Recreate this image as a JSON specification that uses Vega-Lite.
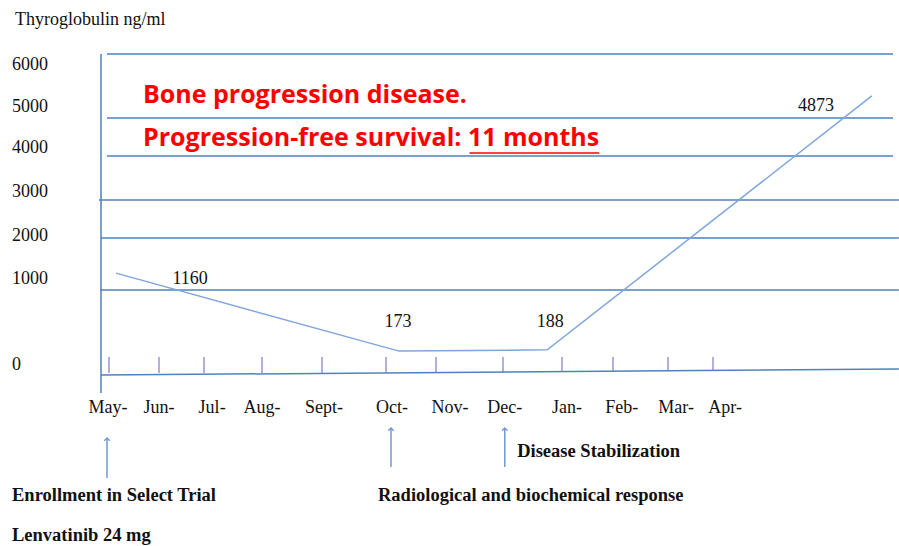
{
  "$schema": "https://vega.github.io/schema/vega-lite/v6.json",
  "width": 899,
  "height": 546,
  "autosize": {"type": "none"},
  "padding": 0,
  "background": "white",
  "config": {"view": {"stroke": null}},
  "datasets": {
    "lines": [
      {"m": -0.04, "m2": 15.0, "v": 6256, "v2": 6256},
      {"m": -0.04, "m2": 15.0, "v": 4767, "v2": 4767},
      {"m": -0.04, "m2": 15.0, "v": 3884, "v2": 3884},
      {"m": -0.2, "m2": 15.13, "v": 2860, "v2": 2860},
      {"m": -0.16, "m2": 15.13, "v": 1977, "v2": 1977},
      {"m": -0.18, "m2": 15.13, "v": 884, "v2": 884},
      {"m": -0.16, "m2": -0.16, "v": 6256, "v2": -314},
      {"m": -0.16, "m2": 15.13, "v": -105, "v2": -35}
    ],
    "ticks": [
      {"m": 0, "v": 105, "v2": -81}, {"m": 1, "v": 105, "v2": -81},
      {"m": 2, "v": 105, "v2": -81}, {"m": 3, "v": 105, "v2": -81},
      {"m": 4, "v": 105, "v2": -81}, {"m": 5, "v": 105, "v2": -81},
      {"m": 6, "v": 105, "v2": -81}, {"m": 7, "v": 105, "v2": -81},
      {"m": 8, "v": 105, "v2": -71}, {"m": 9, "v": 105, "v2": -65},
      {"m": 10, "v": 105, "v2": -60}, {"m": 11, "v": 105, "v2": -56}
    ],
    "series": [
      {"m": 0.14, "v": 1160},
      {"m": 5.26, "v": 173},
      {"m": 7.75, "v": 188},
      {"m": 14.53, "v": 5280}
    ],
    "valueLabels": [
      {"m": 1.69, "v": 1023, "label": "1160"},
      {"m": 5.24, "v": 512, "label": "173"},
      {"m": 7.8, "v": 512, "label": "188"},
      {"m": 13.29, "v": 5047, "label": "4873"}
    ],
    "yLabels": [
      {"m": -1.94, "v": 6000, "label": "6000"},
      {"m": -1.94, "v": 5023, "label": "5000"},
      {"m": -1.94, "v": 4070, "label": "4000"},
      {"m": -1.94, "v": 3047, "label": "3000"},
      {"m": -1.94, "v": 2023, "label": "2000"},
      {"m": -1.94, "v": 1023, "label": "1000"},
      {"m": -1.94, "v": 12, "label": "0"},
      {"m": -1.88, "v": 7047, "label": "Thyroglobulin ng/ml"}
    ],
    "months": [
      {"m": -0.02, "v": -488, "label": "May-"},
      {"m": 1.0, "v": -488, "label": "Jun-"},
      {"m": 2.14, "v": -488, "label": "Jul-"},
      {"m": 3.0, "v": -488, "label": "Aug-"},
      {"m": 4.03, "v": -488, "label": "Sept-"},
      {"m": 5.12, "v": -488, "label": "Oct-"},
      {"m": 6.21, "v": -488, "label": "Nov-"},
      {"m": 7.03, "v": -488, "label": "Dec-"},
      {"m": 8.1, "v": -488, "label": "Jan-"},
      {"m": 9.16, "v": -488, "label": "Feb-"},
      {"m": 10.18, "v": -488, "label": "Mar-"},
      {"m": 11.27, "v": -488, "label": "Apr-"}
    ],
    "redText": [
      {"m": 0.68, "v": 5302, "label": "Bone progression disease."},
      {"m": 0.68, "v": 4302, "label": "Progression-free survival: 11 months"}
    ],
    "underline": [
      {"m": 6.5, "m2": 8.73, "v": 3953}
    ],
    "arrows": [
      {"m": -0.04, "v": -837, "v2": -1302},
      {"m": 5.1, "v": -721, "v2": -1174},
      {"m": 7.03, "v": -721, "v2": -1174}
    ],
    "events": [
      {"m": -1.94, "v": -1500, "label": "Enrollment in Select Trial"},
      {"m": -1.94, "v": -1965, "label": "Lenvatinib 24 mg"},
      {"m": 4.875, "v": -1500, "label": "Radiological and biochemical response"},
      {"m": 7.24, "v": -988, "label": "Disease Stabilization"}
    ]
  },
  "encoding": {
    "x": {
      "field": "m", "type": "quantitative", "axis": null,
      "scale": {"type": "linear", "domain": [0, 1, 2, 3, 4, 5, 6, 7, 8, 9, 10, 11],
        "range": [109, 159, 204, 262, 322, 386, 436, 503, 562, 613, 668, 713], "zero": false, "nice": false}
    },
    "y": {
      "field": "v", "type": "quantitative", "axis": null,
      "scale": {"type": "linear", "domain": [0, 1000, 6000], "range": [366, 280, 65], "zero": false, "nice": false}
    }
  },
  "layer": [
    {
      "data": {"name": "lines"},
      "mark": {"type": "rule", "color": "#4f81bd", "strokeWidth": 1.5},
      "encoding": {"x2": {"field": "m2"}, "y2": {"field": "v2"}}
    },
    {
      "data": {"name": "ticks"},
      "mark": {"type": "rule", "color": "#7a7acc", "strokeWidth": 1.2},
      "encoding": {"y2": {"field": "v2"}}
    },
    {
      "data": {"name": "series"},
      "mark": {"type": "line", "color": "#7ea6dc", "strokeWidth": 1.5},
      "encoding": {}
    },
    {
      "data": {"name": "valueLabels"},
      "mark": {"type": "text", "font": "Liberation Serif", "fontSize": 18, "color": "#111111", "align": "center", "baseline": "middle"},
      "encoding": {"text": {"field": "label"}}
    },
    {
      "data": {"name": "yLabels"},
      "mark": {"type": "text", "font": "Liberation Serif", "fontSize": 18, "color": "#111111", "align": "left", "baseline": "middle"},
      "encoding": {"text": {"field": "label"}}
    },
    {
      "data": {"name": "months"},
      "mark": {"type": "text", "font": "Liberation Serif", "fontSize": 18, "color": "#111111", "align": "center", "baseline": "middle"},
      "encoding": {"text": {"field": "label"}}
    },
    {
      "data": {"name": "redText"},
      "mark": {"type": "text", "font": "Open Sans", "fontWeight": "bold", "fontSize": 25, "color": "#ff0000", "align": "left", "baseline": "middle"},
      "encoding": {"text": {"field": "label"}}
    },
    {
      "data": {"name": "underline"},
      "mark": {"type": "rule", "color": "#ff0000", "strokeWidth": 1.5},
      "encoding": {"x2": {"field": "m2"}}
    },
    {
      "data": {"name": "arrows"},
      "mark": {"type": "rule", "color": "#6f98d0", "strokeWidth": 1.5},
      "encoding": {"y2": {"field": "v2"}}
    },
    {
      "data": {"name": "arrows"},
      "mark": {"type": "point", "shape": "M-1,1L0,0L1,1", "filled": false, "size": 30, "color": "#6f98d0", "strokeWidth": 1.3, "opacity": 1},
      "encoding": {}
    },
    {
      "data": {"name": "events"},
      "mark": {"type": "text", "font": "Liberation Serif", "fontWeight": "bold", "fontSize": 18.5, "color": "#111111", "align": "left", "baseline": "middle"},
      "encoding": {"text": {"field": "label"}}
    }
  ]
}
